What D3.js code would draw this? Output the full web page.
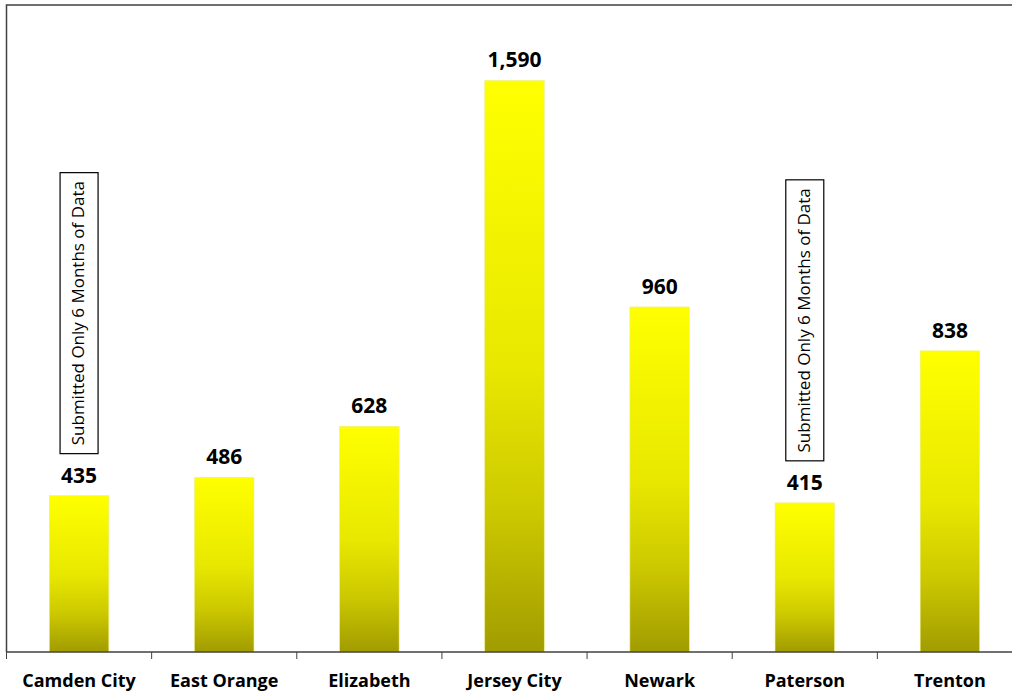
<!DOCTYPE html>
<html><head><meta charset="utf-8">
<script src="https://cdn.jsdelivr.net/npm/d3@7"></script>
<style>body{margin:0;background:#fff}svg{display:block}</style>
</head><body>
<svg id="c" width="1012" height="694"></svg>
<script>
const categories = ["Camden City","East Orange","Elizabeth","Jersey City","Newark","Paterson","Trenton"];
const values = [435,486,628,1590,960,415,838];
const notes = ["Submitted Only 6 Months of Data",null,null,null,null,"Submitted Only 6 Months of Data",null];

(function(){
const svg = d3.select("#c");
const pLeft = 6.5, pRight = 1022.5, pTop = 5, pBottom = 652;
const font = "'Open Sans', 'Noto Sans', sans-serif";

const x = d3.scaleBand().domain(categories).range([pLeft, pRight]).paddingInner(0.59).paddingOuter(0.295);
const y = d3.scaleLinear().domain([0, 1800]).range([pBottom, pTop]);

const defs = svg.append("defs");
const g = defs.append("linearGradient").attr("id","bg").attr("x1",0).attr("y1",0).attr("x2",0).attr("y2",1);
[[0,"#ffff00"],[0.5,"#e8e800"],[0.75,"#cdc900"],[1,"#a19c00"]].forEach(([o,c])=>g.append("stop").attr("offset",o).attr("stop-color",c));

// frame
svg.append("path").attr("d",`M${pLeft},${pBottom}V${pTop}H1012`).attr("fill","none").attr("stroke","#404040").attr("stroke-width",1.5);

// bars
svg.selectAll("rect.bar").data(values).join("rect").attr("class","bar")
  .attr("x",(d,i)=>x(categories[i])).attr("width",x.bandwidth())
  .attr("y",d=>y(d)).attr("height",d=>y(0)-y(d))
  .attr("fill","url(#bg)").attr("stroke","#eeee88").attr("stroke-width",0.6);

// x axis
const xa = d3.scaleLinear().domain([0,categories.length]).range([pLeft,pRight]);
const axis = svg.append("g");
axis.append("line").attr("x1",pLeft).attr("x2",1012).attr("y1",pBottom).attr("y2",pBottom).attr("stroke","#404040").attr("stroke-width",1.5);
axis.selectAll("line.t").data(d3.range(categories.length+1)).join("line").attr("class","t")
  .attr("x1",d=>xa(d)).attr("x2",d=>xa(d)).attr("y1",pBottom).attr("y2",pBottom+7).attr("stroke","#404040").attr("stroke-width",1);
axis.selectAll("text").data(categories).join("text")
  .attr("x",d=>x(d)+x.bandwidth()/2).attr("y",687).attr("text-anchor","middle")
  .attr("font-family",font).attr("font-weight","bold").attr("font-size",18).attr("fill","#000").text(d=>d);

// value labels
const fmt = d3.format(",");
svg.selectAll("text.v").data(values).join("text").attr("class","v")
  .attr("x",(d,i)=>x(categories[i])+x.bandwidth()/2).attr("y",d=>y(d)-13)
  .attr("text-anchor","middle").attr("font-family",font).attr("font-weight","bold").attr("font-size",21).attr("fill","#000")
  .text(d=>fmt(d));

// notes
notes.forEach((n,i)=>{
  if(!n) return;
  const cx = x(categories[i])+x.bandwidth()/2;
  const yb = y(values[i]) - 42, h = 281, w = 38;
  const gg = svg.append("g");
  gg.append("rect").attr("x",cx-w/2).attr("y",yb-h).attr("width",w).attr("height",h).attr("fill","#fff").attr("stroke","#000").attr("stroke-width",1.2);
  gg.append("text").attr("transform",`translate(${cx+5},${yb-h/2}) rotate(-90)`).attr("text-anchor","middle")
    .attr("font-family",font).attr("font-size",17).attr("fill","#000").text(n);
});
})();
</script>
</body></html>
